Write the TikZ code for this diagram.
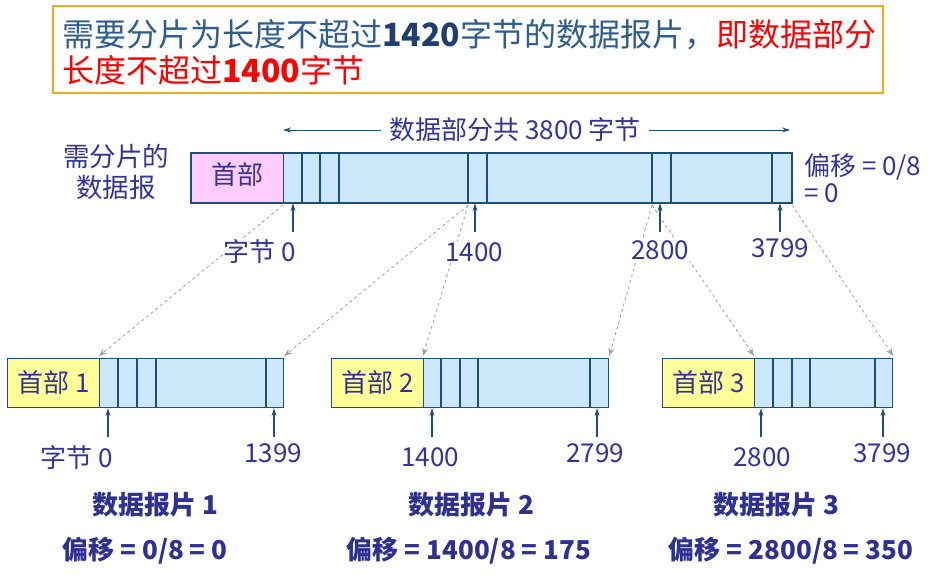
\documentclass[tikz,border=0pt]{standalone}
\usepackage{fontspec}
\setmainfont{Noto Sans CJK SC}
\usetikzlibrary{positioning,arrows.meta}

\definecolor{datafill}{HTML}{CCE9FC}
\definecolor{mainhead}{HTML}{FFCCFF}
\definecolor{fraghead}{HTML}{FFFF99}
\definecolor{edgeblue}{HTML}{1F4E79}
\definecolor{ink}{HTML}{333399}
\definecolor{boldink}{HTML}{2E3192}
\definecolor{noteink}{HTML}{2E5E8E}
\definecolor{notenum}{HTML}{1F3F6F}
\definecolor{noteedge}{HTML}{F5A623}

\newcommand{\lblfont}{\fontsize{26}{30}\selectfont}
\newcommand{\notefont}{\fontsize{32}{35}\selectfont}

\tikzset{
  cell/.style={draw=edgeblue, line width=1.2pt, inner sep=0pt, minimum height=49pt, anchor=north west},
  lbl/.style={text=ink, font=\lblfont, inner sep=1pt, fill=white},
  sumlbl/.style={text=boldink, font=\lblfont\bfseries, inner sep=1pt},
  divline/.style={draw=edgeblue, line width=1.2pt},
  uparrow/.style={draw=edgeblue, line width=1.2pt, -{Stealth[length=8pt,width=5pt]}},
  spanarrow/.style={draw=edgeblue, line width=0.9pt, -{Stealth[length=8pt,width=5pt]}},
  cut/.style={draw=gray!75, dashed, line width=0.8pt, -{Stealth[length=8pt,width=6pt]}},
}

\begin{document}
\begin{tikzpicture}[x=1pt, y=-1pt]
    \useasboundingbox (0,0) rectangle (940,584);

    % note at the top
    \node[draw=noteedge, line width=2pt, fill=white, anchor=north west,
          minimum width=830pt, minimum height=87pt, inner sep=0pt] (note) at (52,5) {};
    \node[anchor=west, inner sep=0pt, font=\notefont] (line1) at (62,35)
        {\color{noteink}需要分片为长度不超过\textbf{\color{notenum}1420}字节的数据报片，\color{red}即数据部分};
    \node[anchor=west, inner sep=0pt, font=\notefont, text=red] (line2) at (62,70)
        {长度不超过\textbf{1400}字节};

    % datagram to be fragmented
    \node[cell, fill=mainhead, minimum width=92pt] (mhd) at (191,153) {};
    \node[font=\lblfont, text=ink] at ([yshift=4pt]mhd.center) {首部};
    \node[cell, fill=datafill, minimum width=508pt] (mdat) at (283,153) {};
    \foreach \dx in {19,37,56,185,204,369,388,489}
        \draw[divline] ([xshift=\dx pt]mdat.north west) -- ([xshift=\dx pt]mdat.south west);
    \draw[edgeblue, line width=2.5pt] (mhd.north west) rectangle (mdat.south east);
    \coordinate (cut1) at ([xshift=185pt]mdat.south west);
    \coordinate (cut2) at ([xshift=369pt]mdat.south west);

    \node[lbl, fill=none, align=center, font=\fontsize{26.5}{31}\selectfont] (dgram) at (116,172) {需分片的\\数据报};
    \node[lbl, fill=none, align=left, anchor=west, font=\fontsize{26}{27}\selectfont] (moff) at (803,178) {偏移 = 0/8\\= 0};

    % total length of the data part
    \node[lbl, inner xsep=8pt] (span) at (515,130) {数据部分共 3800 字节};
    \draw[spanarrow] (span.west) -- (mdat.north west |- span.west);
    \draw[spanarrow] (span.east) -- ([xshift=-2pt]mdat.north east |- span.east);

    % fragments
    \foreach \n/\x/\w in {1/7/184, 2/331/185, 3/662/138} {
        \node[cell, fill=fraghead, minimum width=92pt] (f\n hd) at (\x,358) {};
        \node[font=\lblfont, text=ink] at ([yshift=1pt]f\n hd.center) {首部 \n};
        \node[cell, fill=datafill, minimum width=\w pt] (f\n dat) at (\x+92,358) {};
    }
    \foreach \dx in {19,38,57,167}
        \draw[divline] ([xshift=\dx pt]f1dat.north west) -- ([xshift=\dx pt]f1dat.south west);
    \foreach \dx in {18,37,55,167}
        \draw[divline] ([xshift=\dx pt]f2dat.north west) -- ([xshift=\dx pt]f2dat.south west);
    \foreach \dx in {19,38,56,121}
        \draw[divline] ([xshift=\dx pt]f3dat.north west) -- ([xshift=\dx pt]f3dat.south west);

    % where each piece goes
    \draw[cut] ([yshift=-2pt]mdat.south west) -- ([yshift=2pt]f1dat.north west);
    \draw[cut] ([yshift=-2pt]cut1) -- ([yshift=2pt]f1dat.north east);
    \draw[cut] ([yshift=-2pt]cut1) -- ([yshift=2pt]f2dat.north west);
    \draw[cut] ([yshift=-2pt]cut2) -- ([yshift=2pt]f2dat.north east);
    \draw[cut] ([yshift=-2pt]cut2) -- ([yshift=2pt]f3dat.north west);
    \draw[cut] ([yshift=-2pt]mdat.south east) -- ([yshift=2pt]f3dat.north east);

    % byte numbers under the datagram
    \foreach \name/\x/\lx/\ly/\txt in {m0/293/260/252/字节 0, m1/475/474/252/1400,
                                       m2/660/660/250/2800, m3/780/780/248/3799} {
        \node[lbl] (\name) at (\lx,\ly) {\txt};
        \coordinate (\name b) at (\x,232);
        \draw[uparrow] (\name b) -- (\name b |- mdat.south);
    }

    % byte numbers under the fragments
    \foreach \name/\x/\lx/\ly/\txt in {a0/108/77/458/字节 0, a1/274/273/453/1399,
                                       b0/432/430/457/1400, b1/597/595/453/2799,
                                       c0/761/762/457/2800, c1/883/882/453/3799} {
        \node[lbl] (\name) at (\lx,\ly) {\txt};
        \coordinate (\name b) at (\x,437);
        \draw[uparrow] (\name b) -- (\name b |- f1dat.south);
    }

    % fragment names and offsets
    \node[sumlbl] (name1) at (155,505) {数据报片 1};
    \node[sumlbl] (name2) at (471,505) {数据报片 2};
    \node[sumlbl] (name3) at (776,505) {数据报片 3};
    \node[sumlbl] (off1) at (145,551) {偏移 = 0/8 = 0};
    \node[sumlbl] (off2) at (469,551) {偏移 = 1400/8 = 175};
    \node[sumlbl] (off3) at (791,551) {偏移 = 2800/8 = 350};
\end{tikzpicture}
\end{document}
